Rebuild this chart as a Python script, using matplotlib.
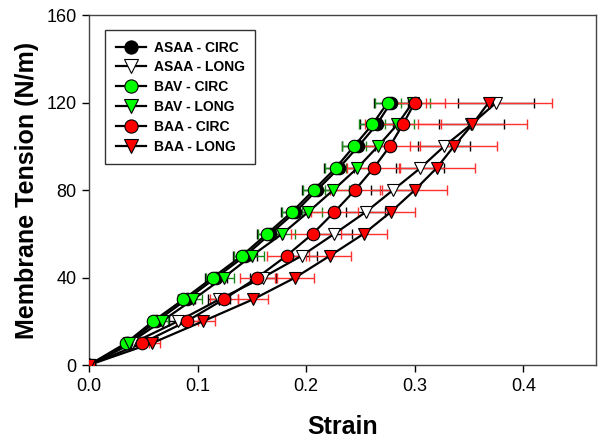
import numpy as np
import matplotlib.pyplot as plt

plt.rcParams['font.family'] = ['Liberation Sans', 'DejaVu Sans']

# Membrane tension levels (N/m)
tension = [0, 10, 20, 30, 40, 50, 60, 70, 80, 90, 100, 110, 120]

# Strain per group
asaa_circ = [0, 0.036, 0.062, 0.090, 0.117, 0.144, 0.167, 0.190, 0.210, 0.230, 0.248, 0.265, 0.278]
asaa_long = [0, 0.040, 0.082, 0.120, 0.160, 0.196, 0.226, 0.255, 0.280, 0.305, 0.327, 0.352, 0.375]
bav_circ = [0, 0.034, 0.059, 0.087, 0.114, 0.141, 0.164, 0.187, 0.207, 0.227, 0.244, 0.261, 0.275]
bav_long = [0, 0.037, 0.067, 0.096, 0.124, 0.150, 0.178, 0.202, 0.225, 0.247, 0.266, 0.284, 0.298]
baa_circ = [0, 0.049, 0.090, 0.124, 0.155, 0.182, 0.206, 0.226, 0.245, 0.262, 0.277, 0.289, 0.300]
baa_long = [0, 0.058, 0.105, 0.151, 0.190, 0.222, 0.253, 0.278, 0.300, 0.320, 0.336, 0.353, 0.368]

# Horizontal error (strain SEM)
asaa_circ_err = [0, 0.004, 0.006, 0.008, 0.010, 0.011, 0.012, 0.013, 0.014, 0.014, 0.015, 0.015, 0.016]
asaa_long_err = [0, 0.005, 0.008, 0.010, 0.012, 0.014, 0.016, 0.018, 0.020, 0.022, 0.024, 0.030, 0.035]
bav_circ_err = [0, 0.003, 0.004, 0.005, 0.006, 0.007, 0.008, 0.009, 0.010, 0.010, 0.011, 0.012, 0.012]
bav_long_err = [0, 0.004, 0.006, 0.008, 0.010, 0.011, 0.012, 0.013, 0.014, 0.014, 0.015, 0.015, 0.016]
baa_circ_err = [0, 0.006, 0.010, 0.013, 0.016, 0.018, 0.020, 0.022, 0.023, 0.024, 0.028, 0.035, 0.028]
baa_long_err = [0, 0.007, 0.011, 0.014, 0.017, 0.019, 0.021, 0.022, 0.030, 0.035, 0.040, 0.050, 0.058]

series = [
    ("ASAA - CIRC", asaa_circ, asaa_circ_err, "o", "black", "black"),
    ("ASAA - LONG", asaa_long, asaa_long_err, "v", "white", "black"),
    ("BAV - CIRC", bav_circ, bav_circ_err, "o", "#00ff00", "#1a8a1a"),
    ("BAV - LONG", bav_long, bav_long_err, "v", "#00ff00", "#1a8a1a"),
    ("BAA - CIRC", baa_circ, baa_circ_err, "o", "#ff0000", "#ff3030"),
    ("BAA - LONG", baa_long, baa_long_err, "v", "#ff0000", "#ff3030"),
]

fig = plt.figure(figsize=(6.01, 4.43), dpi=100)
ax = fig.add_axes([0.148, 0.176, 0.844, 0.790])

for i, (name, x, xerr, mk, fc, ec) in enumerate(series):
    ax.errorbar(x, tension, xerr=xerr, fmt="none", ecolor=ec, elinewidth=1,
                capsize=3.5, capthick=1, zorder=2 + i * 0.1)
for i, (name, x, xerr, mk, fc, ec) in enumerate(series):
    ax.plot(x, tension, color="black", lw=1.6, zorder=3 + i * 0.1)
for i, (name, x, xerr, mk, fc, ec) in enumerate(series):
    ax.plot(x, tension, ls="none", marker=mk, ms=9, mfc=fc, mec="black",
            mew=0.8, zorder=4 + i * 0.1)

handles = [plt.Line2D([], [], color="black", lw=1.6, marker=mk, ms=9.5,
                      mfc=fc, mec="black", mew=0.8)
           for (name, x, xerr, mk, fc, ec) in series]
leg = ax.legend(handles, [s[0] for s in series], loc="upper left",
                bbox_to_anchor=(0.032, 0.957), borderaxespad=0,
                frameon=True, fancybox=False,
                edgecolor="black", handlelength=2.2, handletextpad=0.55,
                borderpad=0.75, labelspacing=0.42,
                prop={"weight": "bold", "size": 10})
leg.get_frame().set_linewidth(1.0)

ax.set_xlim(0, 0.467)
ax.set_ylim(0, 160)
ax.set_xticks([0.0, 0.1, 0.2, 0.3, 0.4])
ax.set_xticklabels(["0.0", "0.1", "0.2", "0.3", "0.4"])
ax.set_yticks([0, 40, 80, 120, 160])
ax.tick_params(direction="out", length=5, width=1, labelsize=13, pad=4,
               top=False, right=False)
for sp in ax.spines.values():
    sp.set_color("#444444")
    sp.set_linewidth(1.0)
for lab in ax.get_xticklabels() + ax.get_yticklabels():
    lab.set_clip_on(False)

ax.set_xlabel("Strain", fontsize=18, fontweight="bold", labelpad=15)
ax.set_ylabel("Membrane Tension (N/m)", fontsize=18, fontweight="bold", labelpad=5)

plt.savefig("out.png", dpi=100)
